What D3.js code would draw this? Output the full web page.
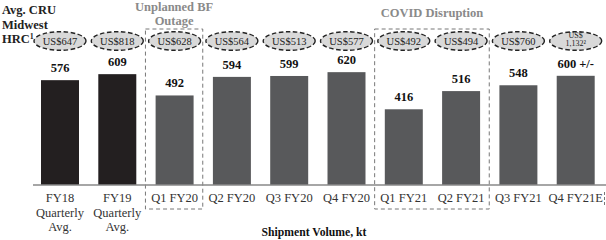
<!DOCTYPE html>
<html><head><meta charset="utf-8">
<script src="https://cdn.jsdelivr.net/npm/d3@7"></script>
<style>body{margin:0;background:#fff}svg{display:block}</style>
</head><body>
<svg id="c" width="606" height="240"></svg>
<script>
const categories = [["FY18","Quarterly","Avg."],["FY19","Quarterly","Avg."],["Q1 FY20"],["Q2 FY20"],["Q3 FY20"],["Q4 FY20"],["Q1 FY21"],["Q2 FY21"],["Q3 FY21"],["Q4 FY21E"]];
const shipments = [576, 609, 492, 594, 599, 620, 416, 516, 548, 600];
const valueLabels = ["576","609","492","594","599","620","416","516","548","600 +/-"];
const hrcPrices = [["US$647"],["US$818"],["US$628"],["US$564"],["US$513"],["US$577"],["US$492"],["US$494"],["US$760"],["US$","1,132²"]];
const annualIdx = [0, 1];
const groups = [{label:["Unplanned BF","Outage"], from:2, to:2},{label:["COVID Disruption"], from:6, to:7}];

const svg = d3.select("#c");
const serif = "'Liberation Serif','Times New Roman',serif";
const idx = d3.range(categories.length);
const x = d3.scaleBand().domain(idx).range([31.35, 604.35]).paddingInner(0.337).paddingOuter(0.1685);
const y = d3.scaleLinear().domain([0, 1000]).range([185, 3]);

// dashed group boxes
groups.forEach(g => {
  const x0 = x(g.from) - (x.step()-x.bandwidth())/2 - 0.5;
  const x1 = x(g.to) + x.bandwidth() + (x.step()-x.bandwidth())/2 - 0.5;
  svg.append("rect").attr("x", x0).attr("y", 29).attr("width", x1-x0).attr("height", 180)
    .attr("fill","none").attr("stroke","#777").attr("stroke-width",1).attr("stroke-dasharray","4,3");
  const t = svg.append("text").attr("x",(x0+x1)/2).attr("text-anchor","middle")
    .attr("font-family",serif).attr("font-weight","bold").attr("font-size",12.5).attr("fill","#8a8a8a");
  if (g.label.length === 2) {
    t.append("tspan").attr("x",(x0+x1)/2).attr("y",11).text(g.label[0]);
    t.append("tspan").attr("x",(x0+x1)/2).attr("y",25).text(g.label[1]);
  } else {
    t.attr("y",17).text(g.label[0]);
  }
});
// right-edge dashed fragment
svg.append("line").attr("x1",604.5).attr("x2",604.5).attr("y1",192).attr("y2",206)
  .attr("stroke","#777").attr("stroke-dasharray","3,2");

// bars
svg.selectAll("rect.bar").data(idx).join("rect").attr("class","bar")
  .attr("x", i => x(i)).attr("width", x.bandwidth())
  .attr("y", i => y(shipments[i])).attr("height", i => y(0) - y(shipments[i]))
  .attr("fill", i => annualIdx.includes(i) ? "#231f20" : "#58595b");

// value labels
svg.selectAll("text.val").data(idx).join("text").attr("class","val")
  .attr("x", i => x(i) + x.bandwidth()/2).attr("y", i => y(shipments[i]) - 8)
  .attr("text-anchor","middle").attr("font-family",serif).attr("font-weight","bold")
  .attr("font-size",12.5).attr("fill","#111").text(i => valueLabels[i]);

// axis baseline
const axis = d3.axisBottom(x).tickSize(0).tickFormat(() => "");
svg.append("g").attr("transform","translate(0,185)").call(axis)
  .call(g => g.select(".domain").attr("d","M33,0H606").attr("stroke","#888").attr("stroke-width",1.5));

// category labels
idx.forEach(i => {
  const t = svg.append("text").attr("text-anchor","middle").attr("font-family",serif)
    .attr("font-size",12.5).attr("fill","#333");
  categories[i].forEach((line, k) => {
    t.append("tspan").attr("x", x(i) + x.bandwidth()/2).attr("y", 202 + k*14.5).text(line);
  });
});

// HRC price ellipses
idx.forEach(i => {
  const cx = x(i) + x.bandwidth()/2;
  svg.append("ellipse").attr("cx", cx).attr("cy", 41).attr("rx", 26).attr("ry", 9.3)
    .attr("fill","#d9d9d9").attr("stroke","#222").attr("stroke-width",1.4).attr("stroke-dasharray","4.5,2.5");
  const lines = hrcPrices[i];
  if (lines.length === 1) {
    svg.append("text").attr("x",cx).attr("y",45).attr("text-anchor","middle").attr("font-family",serif)
      .attr("font-size",10.5).attr("fill","#222").text(lines[0]);
  } else {
    lines.forEach((l,k) => svg.append("text").attr("x",cx).attr("y",37.5 + k*8.5).attr("text-anchor","middle")
      .attr("font-family",serif).attr("font-size",8).attr("fill","#222").text(l));
  }
});

// title
const title = svg.append("text").attr("font-family",serif).attr("font-weight","bold").attr("font-size",12.5).attr("fill","#222");
title.append("tspan").attr("x",2).attr("y",14).text("Avg. CRU");
title.append("tspan").attr("x",2).attr("y",28.5).text("Midwest");
title.append("tspan").attr("x",2).attr("y",43).text("HRC");
title.append("tspan").attr("font-size",8).attr("dy",-4).text("1");

// axis title
svg.append("text").attr("x",314).attr("y",235.5).attr("text-anchor","middle").attr("font-family",serif)
  .attr("font-weight","bold").attr("font-size",11.7).attr("fill","#111").text("Shipment Volume, kt");
</script>
</body></html>
